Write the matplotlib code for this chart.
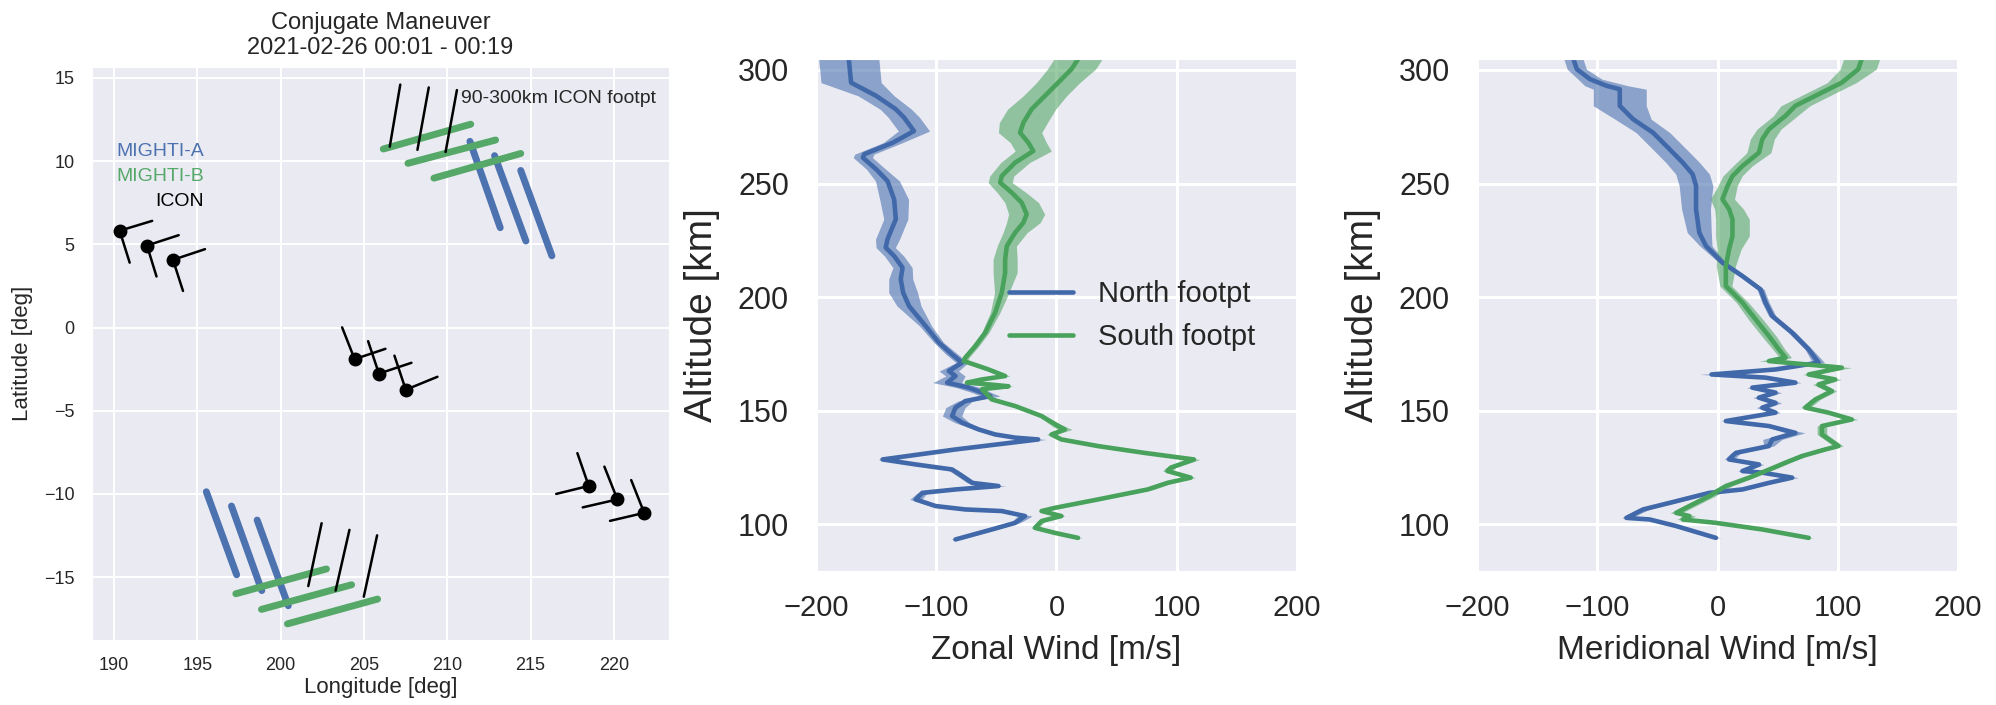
import numpy as np
import matplotlib
matplotlib.use('Agg')
import matplotlib.pyplot as plt
import seaborn as sns

sns.set_style('darkgrid')
plt.rcParams['font.family'] = ['Liberation Sans', 'DejaVu Sans']

BLUE = '#4C72B0'
GREEN = '#55A868'
BLUE_LINE = '#4169AA'
GREEN_LINE = '#48A25C'

# ---- 左圖：足跡位置 ----
# ICON 位置與兩個指向
icon_lon = [190.34, 191.98, 193.54, 204.44, 205.90, 207.51, 218.49, 220.21, 221.82]
icon_lat = [5.82, 4.93, 4.07, -1.90, -2.77, -3.74, -9.52, -10.33, -11.14]
arm_a_lon = [192.29, 193.88, 195.46, 206.29, 207.85, 209.41, 216.54, 218.13, 219.77]
arm_a_lat = [6.41, 5.55, 4.71, -1.28, -2.12, -2.96, -10.00, -10.81, -11.62]
arm_b_lon = [190.94, 192.55, 194.14, 203.69, 205.25, 206.83, 217.81, 219.43, 221.04]
arm_b_lat = [3.90, 3.07, 2.20, 0.01, -0.82, -1.69, -7.55, -8.36, -9.17]

# MIGHTI-A 足跡
ma_lon0 = [211.36, 212.84, 214.41, 195.54, 197.05, 198.59]
ma_lat0 = [11.19, 10.33, 9.44, -9.87, -10.73, -11.57]
ma_lon1 = [213.18, 214.72, 216.28, 197.36, 198.87, 200.46]
ma_lat1 = [6.00, 5.20, 4.31, -14.86, -15.81, -16.72]

# MIGHTI-B 足跡
mb_lon0 = [206.16, 207.64, 209.20, 197.31, 198.85, 200.41]
mb_lat0 = [10.73, 9.87, 8.98, -16.00, -16.94, -17.81]
mb_lon1 = [211.41, 212.90, 214.41, 202.75, 204.26, 205.82]
mb_lat1 = [12.22, 11.27, 10.46, -14.51, -15.46, -16.32]

# 90-300km ICON footpt
fp_lon0 = [206.55, 208.21, 209.90, 201.66, 203.30, 204.99]
fp_lat0 = [10.87, 10.68, 10.55, -15.54, -15.81, -16.18]
fp_lon1 = [207.18, 208.89, 210.58, 202.46, 204.13, 205.79]
fp_lat1 = [14.60, 14.43, 14.27, -11.76, -12.16, -12.49]

# ---- 風場剖面 ----
zn_alt = [304.7, 294.4, 288.6, 282.7, 279.0, 273.1, 268.0, 262.9, 261.4, 256.3,
          251.1, 243.0, 234.3, 225.5, 221.8, 218.1, 213.0, 207.9, 202.0, 196.1,
          187.3, 180.0, 174.8, 171.2, 167.5, 165.3, 162.4, 160.2, 158.0, 156.5,
          154.3, 151.4, 147.7, 144.8, 141.8, 139.6, 138.2, 137.4, 133.0, 128.6,
          126.4, 124.2, 121.3, 118.3, 116.9, 115.4, 113.9, 111.0, 108.1, 106.6,
          105.9, 103.7, 100.7, 97.8, 93.4]
zn_wind = [-172.7, -170.8, -150.0, -133.6, -126.7, -118.5, -136.0, -159.8, -161.0, -150.0,
           -140.5, -135.0, -133.6, -140.5, -142.0, -135.0, -128.0, -129.5, -127.5, -122.6,
           -108.8, -97.8, -86.8, -78.5, -89.5, -84.0, -90.9, -73.0, -62.0, -55.0,
           -75.8, -84.0, -86.8, -78.5, -64.7, -51.0, -34.4, -15.2, -84.0, -144.6,
           -117.0, -86.8, -78.5, -70.2, -48.2, -84.0, -111.6, -117.0, -100.5, -75.8,
           -45.5, -26.2, -34.4, -53.7, -84.0]
zn_err = [25, 25, 15, 13, 13, 13, 8, 8, 8, 8,
          10, 12, 10, 10, 8, 8, 8, 10, 12, 10,
          5, 4, 5, 5, 8, 8, 12, 10, 8, 8,
          6, 8, 8, 6, 4, 4, 4, 7, 4, 4,
          4, 4, 4, 4, 6, 4, 4, 5, 4, 4,
          4, 6, 4, 4, 4]

zs_alt = [304.7, 300.3, 294.4, 288.6, 282.7, 276.8, 272.4, 268.0, 264.3, 259.2,
          253.3, 250.4, 246.0, 241.6, 236.5, 232.8, 228.4, 222.5, 216.7, 210.8,
          202.0, 193.2, 184.4, 178.5, 173.4, 171.9, 168.2, 165.3, 163.8, 162.4,
          161.5, 160.8, 159.5, 156.5, 155.0, 152.1, 147.7, 143.3, 141.8, 139.6,
          137.4, 134.5, 131.5, 128.6, 125.0, 123.5, 120.6, 118.3, 115.4, 111.0,
          107.3, 105.9, 103.7, 101.5, 98.5, 96.3, 94.1]
zs_wind = [17.9, 12.4, 1.4, -9.6, -20.7, -27.5, -30.3, -23.4, -19.3, -34.4,
           -45.5, -46.8, -37.2, -28.9, -24.8, -27.5, -34.4, -41.3, -42.7, -42.7,
           -45.5, -51.0, -59.2, -67.5, -75.8, -77.1, -56.5, -42.7, -62.0, -74.4,
           -53.7, -39.9, -62.0, -56.5, -53.7, -34.4, -12.4, 1.4, 6.9, -4.1,
           4.1, 34.4, 73.0, 114.3, 95.0, 92.3, 111.6, 92.3, 75.8, 34.4,
           -1.4, -12.4, 4.1, -12.4, -17.9, -1.4, 17.9]
zs_err = [20, 20, 18, 18, 20, 20, 18, 15, 15, 12,
          10, 10, 12, 14, 15, 14, 10, 8, 10, 10,
          6, 4, 3, 3, 3, 3, 3, 4, 3, 3,
          4, 4, 3, 3, 3, 3, 3, 5, 6, 4,
          3, 3, 3, 5, 4, 4, 4, 4, 5, 4,
          3, 3, 3, 3, 3, 3, 4]

mn_alt = [304.7, 300.3, 295.9, 293.0, 291.5, 284.2, 278.3, 272.4, 265.1, 259.2,
          254.1, 249.0, 238.7, 228.4, 222.5, 215.2, 209.3, 203.4, 197.6, 191.7,
          184.4, 177.0, 171.2, 168.2, 166.0, 164.6, 162.4, 160.2, 158.0, 155.8,
          153.5, 151.4, 149.2, 145.5, 143.3, 140.3, 137.4, 134.5, 131.5, 128.6,
          126.4, 123.5, 122.8, 120.6, 118.3, 115.4, 113.9, 109.5, 106.6, 102.9,
          102.2, 99.3, 94.1]
mn_wind = [-119.8, -117.0, -106.0, -92.3, -81.3, -81.3, -70.2, -53.7, -39.9, -28.9,
           -20.7, -17.9, -17.9, -15.2, -9.6, 4.1, 20.7, 35.8, 39.9, 45.5,
           62.0, 75.8, 84.0, 48.2, -5.0, 39.9, 64.7, 28.9, 48.2, 34.4,
           48.2, 37.2, 48.2, 6.9, 42.7, 64.7, 45.5, 42.7, 15.2, 9.6,
           34.4, 20.7, 37.2, 62.0, 42.7, 20.7, -6.9, -39.9, -62.0, -75.8,
           -56.5, -34.4, -1.4]
mn_err = [8, 8, 10, 18, 22, 22, 15, 14, 14, 14,
          14, 14, 12, 10, 5, 3, 3, 3, 3, 3,
          3, 3, 5, 5, 10, 5, 5, 5, 5, 5,
          5, 5, 4, 4, 4, 8, 8, 4, 4, 4,
          4, 4, 4, 5, 4, 4, 4, 5, 5, 4,
          4, 4, 4]

ms_alt = [304.7, 300.3, 294.4, 288.6, 284.2, 279.8, 273.9, 269.5, 263.6, 257.7,
          253.3, 248.9, 243.1, 238.7, 234.3, 226.9, 221.1, 213.7, 204.9, 197.6,
          190.2, 182.9, 177.0, 173.4, 171.9, 169.0, 166.0, 163.8, 161.6, 158.7,
          155.0, 151.4, 149.2, 146.2, 143.3, 139.6, 134.5, 133.0, 130.1, 127.2,
          123.5, 120.6, 116.9, 112.5, 108.1, 105.1, 103.7, 102.2, 100.7, 97.8,
          94.1]
ms_wind = [119.8, 117.0, 103.3, 81.3, 64.7, 56.5, 42.7, 37.2, 34.4, 20.7,
           12.4, 8.3, 4.1, 9.6, 12.4, 12.4, 9.6, 6.9, 6.9, 20.7,
           31.7, 42.7, 51.0, 56.5, 42.7, 103.3, 75.8, 97.8, 84.0, 95.0,
           81.3, 73.0, 92.3, 111.6, 86.8, 86.8, 100.5, 89.5, 70.2, 56.5,
           39.9, 26.2, 6.9, -6.9, -23.4, -34.4, -23.4, -28.9, -1.4, 37.2,
           75.8]
ms_err = [15, 15, 12, 12, 12, 10, 10, 10, 10, 8,
          8, 8, 10, 12, 14, 14, 10, 8, 5, 5,
          6, 6, 5, 5, 8, 8, 5, 5, 5, 4,
          4, 4, 4, 5, 4, 4, 4, 4, 4, 4,
          4, 4, 5, 5, 5, 5, 5, 5, 4, 4,
          4]

fig = plt.figure(figsize=(19.96, 7.05), dpi=100)

# ---- 左圖 ----
ax0 = fig.add_axes([0.0461, 0.0922, 0.289, 0.8128])
for i in range(len(ma_lon0)):
    ax0.plot([ma_lon0[i], ma_lon1[i]], [ma_lat0[i], ma_lat1[i]], color=BLUE,
             lw=5, solid_capstyle='round')
for i in range(len(mb_lon0)):
    ax0.plot([mb_lon0[i], mb_lon1[i]], [mb_lat0[i], mb_lat1[i]], color=GREEN,
             lw=5, solid_capstyle='round')
for i in range(len(fp_lon0)):
    ax0.plot([fp_lon0[i], fp_lon1[i]], [fp_lat0[i], fp_lat1[i]], color='k', lw=1.8)
for i in range(len(icon_lon)):
    ax0.plot([arm_a_lon[i], icon_lon[i], arm_b_lon[i]],
             [arm_a_lat[i], icon_lat[i], arm_b_lat[i]], color='k', lw=1.8)
ax0.plot(icon_lon, icon_lat, 'o', color='k', ms=9)

ax0.text(195.4, 10.6, 'MIGHTI-A', color=BLUE, fontsize=14, ha='right', va='center')
ax0.text(195.4, 9.1, 'MIGHTI-B', color=GREEN, fontsize=14, ha='right', va='center')
ax0.text(195.4, 7.6, 'ICON', color='k', fontsize=14, ha='right', va='center')
ax0.text(210.8, 13.76, '90-300km ICON footpt', color='#262626', fontsize=14,
         ha='left', va='center')

ax0.set_xlim(188.68, 223.3)
ax0.set_ylim(-18.78, 15.66)
ax0.set_xticks(range(190, 221, 5))
ax0.set_yticks(range(-15, 16, 5))
ax0.tick_params(labelsize=13, pad=9, colors='#262626')
ax0.grid(True, color='white', lw=1.4)
ax0.set_title('Conjugate Maneuver\n2021-02-26 00:01 - 00:19', fontsize=17,
              color='#262626', pad=9)
ax0.set_xlabel('Longitude [deg]', fontsize=16, color='#262626')
ax0.set_ylabel('Latitude [deg]', fontsize=16, color='#262626')
ax0.xaxis.set_label_coords(0.5, -0.065)
ax0.yaxis.set_label_coords(-0.102, 0.5)


def profile(ax, alt, wind, err, color, line_color, label):
    alt = np.array(alt)
    wind = np.array(wind)
    err = np.array(err)
    ax.fill_betweenx(alt, wind - err, wind + err, color=color, alpha=0.6, lw=0)
    ax.plot(wind, alt, color=line_color, lw=3.3, label=label)


# ---- 中圖與右圖 ----
ax1 = fig.add_axes([0.4088, 0.190, 0.241, 0.726])
ax2 = fig.add_axes([0.740, 0.190, 0.241, 0.726])

profile(ax1, zn_alt, zn_wind, zn_err, BLUE, BLUE_LINE, 'North footpt')
profile(ax1, zs_alt, zs_wind, zs_err, GREEN, GREEN_LINE, 'South footpt')
profile(ax2, mn_alt, mn_wind, mn_err, BLUE, BLUE_LINE, 'North footpt')
profile(ax2, ms_alt, ms_wind, ms_err, GREEN, GREEN_LINE, 'South footpt')

for ax, xlab in [(ax1, 'Zonal Wind [m/s]'), (ax2, 'Meridional Wind [m/s]')]:
    ax.set_xlim(-200, 200)
    ax.set_ylim(79.5, 304.7)
    ax.set_xticks([-200, -100, 0, 100, 200])
    ax.set_yticks([100, 150, 200, 250, 300])
    ax.tick_params(axis='x', labelsize=21, pad=13, colors='#262626')
    ax.tick_params(axis='y', labelsize=22, pad=16, colors='#262626')
    ax.grid(True, color='white', lw=2.2)
    ax.set_xlabel(xlab, fontsize=24, color='#262626')
    ax.set_ylabel('Altitude [km]', fontsize=28, color='#262626')
    ax.xaxis.set_label_coords(0.5, -0.125)
    ax.yaxis.set_label_coords(-0.2, 0.5)

ax1.legend(loc='upper left', bbox_to_anchor=(0.401, 0.568), frameon=False,
           fontsize=21, handlelength=2.2, handletextpad=0.85, borderpad=0,
           borderaxespad=0, labelspacing=0.5)

plt.savefig('out.png', dpi=100)
plt.close()
